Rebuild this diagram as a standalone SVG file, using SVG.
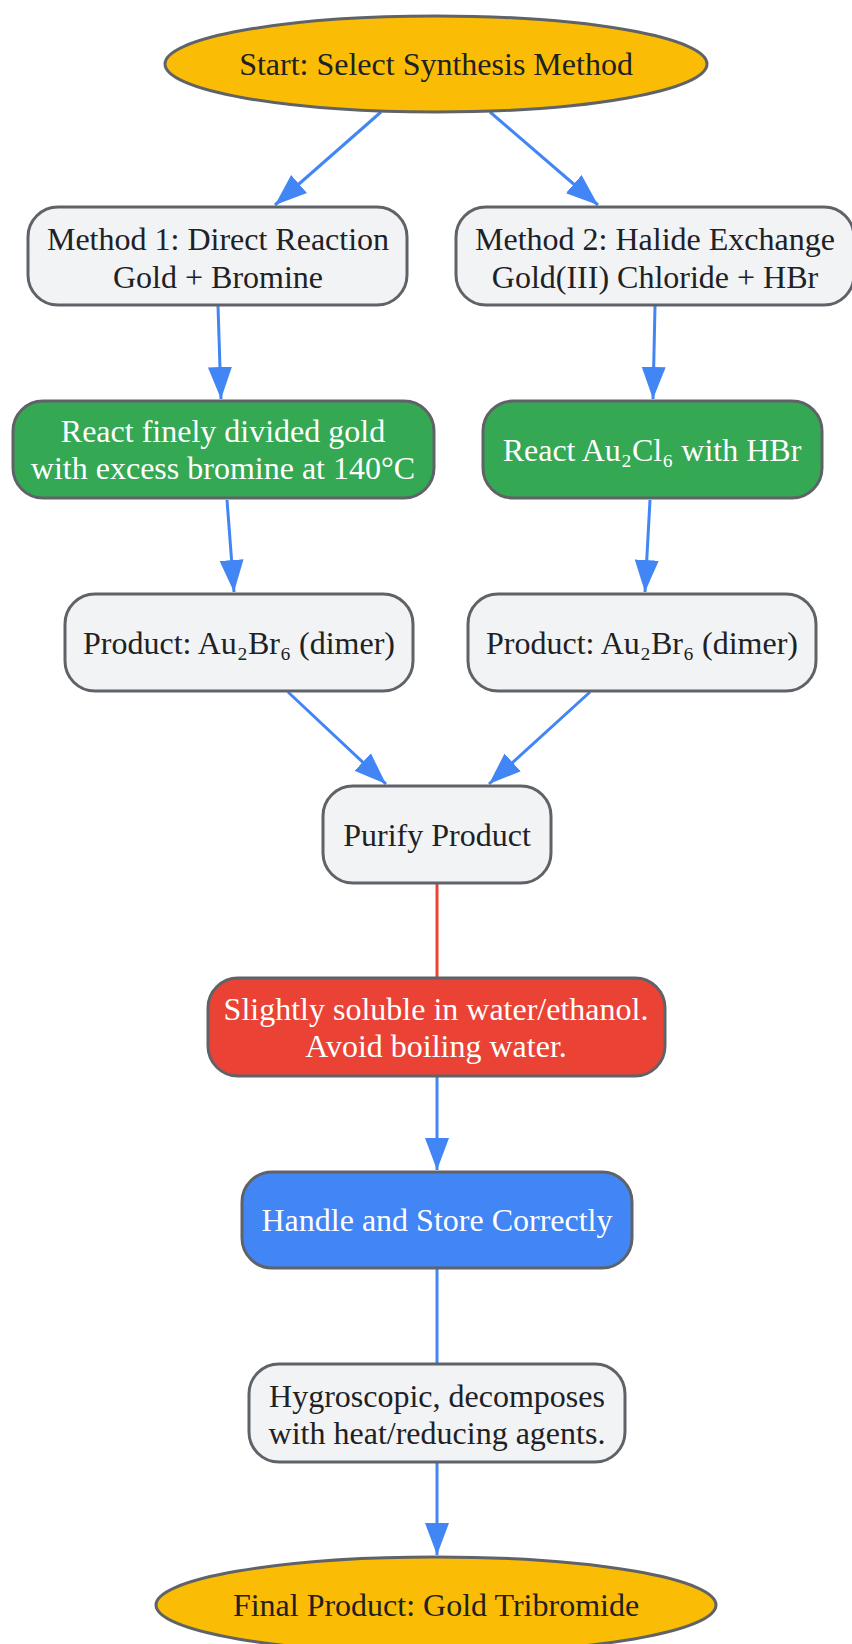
<svg xmlns="http://www.w3.org/2000/svg" width="852" height="1644" viewBox="0 0 852 1644">
<style>
.n{stroke:#5f6368;stroke-width:3}
.light{fill:#f1f3f4}
.green{fill:#34a853}
.red{fill:#ea4335}
.blue{fill:#4285f4}
.gold{fill:#fbbc05}
text{font-family:"Liberation Serif","Times New Roman",serif;font-size:32px;text-anchor:middle;dominant-baseline:central}
.dk{fill:#202124}
.wt{fill:#ffffff}
.e{fill:none;stroke:#4285f4;stroke-width:3}
.er{fill:none;stroke:#ea4335;stroke-width:3}
</style>
<defs>
<marker id="arr" markerUnits="userSpaceOnUse" markerWidth="34" markerHeight="26" refX="32" refY="13" orient="auto">
<path d="M0,1 L32,13 L0,25 z" fill="#4285f4"/>
</marker>
</defs>
<rect width="852" height="1644" fill="#ffffff"/>
<g id="edges">
<line class="e" x1="381" y1="112" x2="275" y2="205" marker-end="url(#arr)"/>
<line class="e" x1="490" y1="112" x2="598" y2="205" marker-end="url(#arr)"/>
<line class="e" x1="218" y1="306" x2="221" y2="399" marker-end="url(#arr)"/>
<line class="e" x1="655" y1="306" x2="653" y2="399" marker-end="url(#arr)"/>
<line class="e" x1="227" y1="500" x2="234" y2="592" marker-end="url(#arr)"/>
<line class="e" x1="650" y1="500" x2="645" y2="592" marker-end="url(#arr)"/>
<line class="e" x1="288" y1="692" x2="386" y2="784" marker-end="url(#arr)"/>
<line class="e" x1="590" y1="692" x2="489" y2="784" marker-end="url(#arr)"/>
<line class="er" x1="437" y1="884" x2="437" y2="977"/>
<line class="e" x1="437" y1="1077" x2="437" y2="1170" marker-end="url(#arr)"/>
<line class="e" x1="437" y1="1269" x2="437" y2="1363"/>
<line class="e" x1="437" y1="1463" x2="437" y2="1555" marker-end="url(#arr)"/>
</g>
<g id="start">
<ellipse class="n gold" cx="436" cy="64" rx="271" ry="48"/>
<text class="dk" x="436" y="64">Start: Select Synthesis Method</text>
</g>
<g id="method1">
<rect class="n light" x="28" y="207" width="379" height="98" rx="30"/>
<text class="dk" x="218" y="239">Method 1: Direct Reaction</text>
<text class="dk" x="218" y="277">Gold + Bromine</text>
</g>
<g id="method2">
<rect class="n light" x="456" y="207" width="398" height="98" rx="30"/>
<text class="dk" x="655" y="239">Method 2: Halide Exchange</text>
<text class="dk" x="655" y="277">Gold(III) Chloride + HBr</text>
</g>
<g id="react1">
<rect class="n green" x="13" y="401" width="421" height="97" rx="30"/>
<text class="wt" x="223" y="431">React finely divided gold</text>
<text class="wt" x="223" y="468">with excess bromine at 140°C</text>
</g>
<g id="react2">
<rect class="n green" x="483" y="401" width="339" height="97" rx="30"/>
<text class="wt" x="652" y="450">React Au₂Cl₆ with HBr</text>
</g>
<g id="product1">
<rect class="n light" x="65" y="594" width="348" height="97" rx="30"/>
<text class="dk" x="239" y="643">Product: Au₂Br₆ (dimer)</text>
</g>
<g id="product2">
<rect class="n light" x="468" y="594" width="348" height="97" rx="30"/>
<text class="dk" x="642" y="643">Product: Au₂Br₆ (dimer)</text>
</g>
<g id="purify">
<rect class="n light" x="323" y="786" width="228" height="97" rx="30"/>
<text class="dk" x="437" y="835">Purify Product</text>
</g>
<g id="solubility">
<rect class="n red" x="208" y="978" width="457" height="98" rx="30"/>
<text class="wt" x="436" y="1009">Slightly soluble in water/ethanol.</text>
<text class="wt" x="436" y="1046">Avoid boiling water.</text>
</g>
<g id="handle">
<rect class="n blue" x="242" y="1172" width="390" height="96" rx="30"/>
<text class="wt" x="437" y="1220">Handle and Store Correctly</text>
</g>
<g id="hygroscopic">
<rect class="n light" x="249" y="1364" width="376" height="98" rx="30"/>
<text class="dk" x="437" y="1396">Hygroscopic, decomposes</text>
<text class="dk" x="437" y="1433">with heat/reducing agents.</text>
</g>
<g id="final">
<ellipse class="n gold" cx="436" cy="1605" rx="280" ry="48"/>
<text class="dk" x="436" y="1605">Final Product: Gold Tribromide</text>
</g>
</svg>
